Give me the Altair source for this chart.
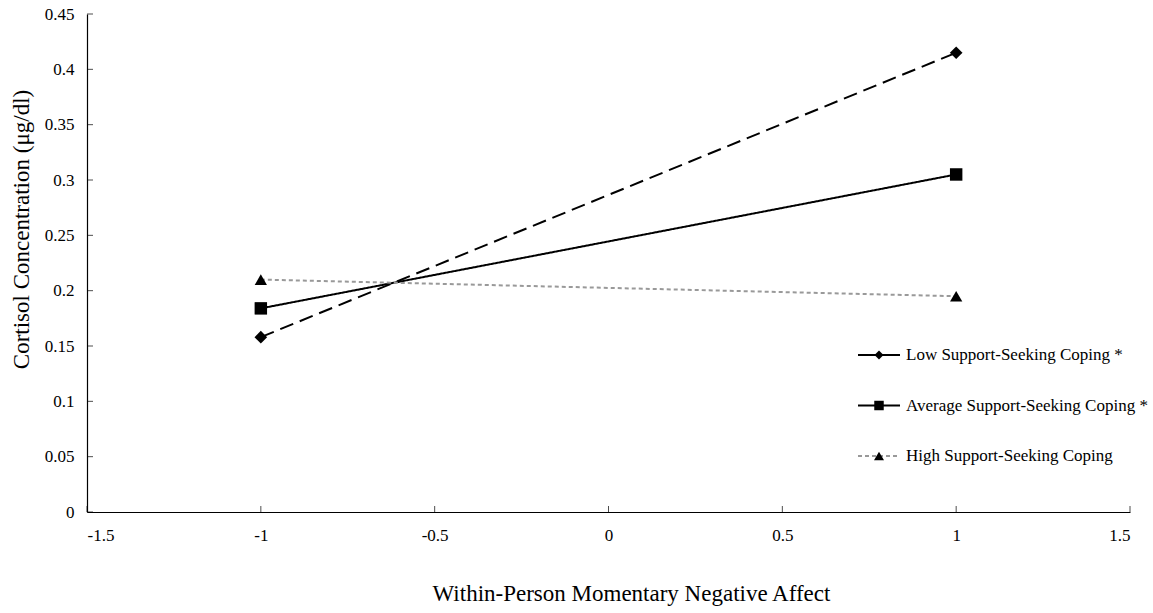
import altair as alt
import pandas as pd

# ---- data ----
series = ["Low Support-Seeking Coping *", "Average Support-Seeking Coping *", "High Support-Seeking Coping"]
x_vals = [-1, 1]
low_vals = [0.158, 0.415]
avg_vals = [0.184, 0.305]
high_vals = [0.210, 0.195]
x_ticks = [-1.5, -1, -0.5, 0, 0.5, 1, 1.5]
y_ticks = [0, 0.05, 0.1, 0.15, 0.2, 0.25, 0.3, 0.35, 0.4, 0.45]

rows = []
for name, vals in zip(series, [low_vals, avg_vals, high_vals]):
    for xv, yv in zip(x_vals, vals):
        rows.append({"series": name, "x": xv, "y": yv})
df = pd.DataFrame(rows)
legend_df = pd.DataFrame({"series": series})
yt_df = pd.DataFrame({"y": y_ticks})
xt_df = pd.DataFrame({"x": x_ticks})

FONT = "Liberation Serif"
W, H = 1043, 498

xscale = alt.Scale(domain=[-1.5, 1.5], nice=False, zero=False)
yscale = alt.Scale(domain=[0, 0.45], nice=False)
xaxis = alt.Axis(values=x_ticks, title="Within-Person Momentary Negative Affect",
                 tickSize=0, labelPadding=15, titlePadding=39, titleX=544, grid=False,
                 labelExpr="'' + datum.value")
yaxis = alt.Axis(values=y_ticks, title="Cortisol Concentration (μg/dl)",
                 tickSize=0, labelPadding=13, titlePadding=11, titleY=215, grid=False,
                 labelExpr="'' + datum.value")

col_scale = alt.Scale(domain=series, range=["#000000", "#000000", "#999999"])
dash_scale = alt.Scale(domain=series, range=[[14, 7], [1, 0], [4, 3]])
shape_scale = alt.Scale(domain=series, range=["diamond", "square", "triangle-up"])

lines = alt.Chart(df).mark_line(strokeWidth=2).encode(
    x=alt.X("x:Q", scale=xscale, axis=xaxis),
    y=alt.Y("y:Q", scale=yscale, axis=yaxis),
    color=alt.Color("series:N", scale=col_scale, legend=None),
    strokeDash=alt.StrokeDash("series:N", scale=dash_scale, legend=None),
)
points = alt.Chart(df).mark_point(filled=True, opacity=1, color="#000000").encode(
    x=alt.X("x:Q", scale=xscale, axis=xaxis),
    y=alt.Y("y:Q", scale=yscale, axis=yaxis),
    shape=alt.Shape("series:N", scale=shape_scale, legend=None),
    size=alt.Size("series:N", scale=alt.Scale(domain=series, range=[160, 150, 150]), legend=None),
)
yticks = alt.Chart(yt_df).mark_tick(orient="horizontal", size=6, thickness=1, color="#000000").encode(
    y=alt.Y("y:Q", scale=yscale, axis=yaxis),
    x=alt.value(3),
)
xticks = alt.Chart(xt_df).mark_tick(orient="vertical", size=6, thickness=1, color="#000000").encode(
    x=alt.X("x:Q", scale=xscale, axis=xaxis),
    y=alt.value(H - 3),
)
main = alt.layer(lines, points, yticks, xticks)

ly = alt.Y("series:N", scale=alt.Scale(type="point", domain=series, range=[341, 442], padding=0), axis=None)
lrules = alt.Chart(legend_df).mark_rule(strokeWidth=2).encode(
    x=alt.value(771), x2=alt.value(813), y=ly,
    color=alt.Color("series:N", scale=col_scale, legend=None),
    strokeDash=alt.StrokeDash("series:N", scale=alt.Scale(domain=series, range=[[1, 0], [1, 0], [4, 3]]), legend=None),
)
lpoints = alt.Chart(legend_df).mark_point(filled=True, opacity=1, color="#000000").encode(
    x=alt.value(792), y=ly,
    shape=alt.Shape("series:N", scale=shape_scale, legend=None),
    size=alt.Size("series:N", scale=alt.Scale(domain=series, range=[80, 100, 100]), legend=None),
)
ltext = alt.Chart(legend_df).mark_text(align="left", baseline="middle", font=FONT, fontSize=17, color="#000000").encode(
    x=alt.value(819), y=ly, text="series:N",
)
legend = alt.layer(lrules, lpoints, ltext)

chart = alt.layer(main, legend).resolve_scale(
    y="independent", strokeDash="independent", size="independent"
).properties(
    width=W, height=H,
    autosize=alt.AutoSizeParams(type="none"),
    padding={"left": 87, "top": 14, "right": 23, "bottom": 101},
).configure_view(stroke=None).configure_axis(
    domainColor="#000000", domainWidth=1.2,
    labelFont=FONT, labelFontSize=17, labelColor="#000000",
    titleFont=FONT, titleFontSize=23, titleFontWeight="normal", titleColor="#000000",
)

chart.save("out.html", embed_options={"renderer": "svg", "actions": False})
